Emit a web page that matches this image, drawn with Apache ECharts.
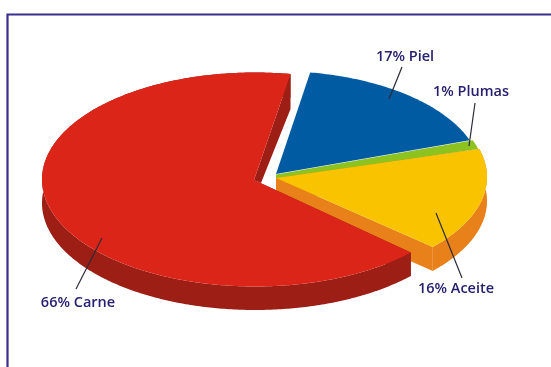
<!DOCTYPE html>
<html><head><meta charset="utf-8">
<style>html,body{margin:0;padding:0;background:#fff}#c{width:551px;height:367px}</style>
<script src="https://cdn.jsdelivr.net/npm/echarts@6/dist/echarts.min.js"></script>
</head><body><div id="c"></div>
<script>
const categories = ['Piel', 'Plumas', 'Aceite', 'Carne'];
const values = [17, 1, 16, 66];
const total = values.reduce((a, b) => a + b, 0);

const topColors = ['#005BA3', '#8CC320', '#F9C300', '#DC2519'];
const wallColors = [null, null, '#E8811A', '#9C1E15'];
const INK = '#27206F';
// ellipse of each slice, wedge tip(s), wall depth, angle bleed/trim, paint order
const geom = [
  {cx: 276, cy: 174, a: 205, b: 103, tips: [[276, 174]], d: 0, pre: 0, post: 0, order: 2},
  {cx: 276, cy: 175, a: 209, b: 103, tips: [[276, 179], [276, 174.5]], d: 0, pre: 0.5, post: 1, order: 1},
  {cx: 276, cy: 177, a: 211, b: 104.5, tips: [[276, 178]], d: 24, pre: 0, post: 0, order: 3},
  {cx: 255, cy: 179.5, a: 213, b: 107, tips: [[254, 180]], d: 23.5, pre: -1, post: 0, order: 4,
    cut: {drop: 35, tipShift: [7, 3]}}
];
// label anchor and leader line, both pixel annotations
const notes = [
  {x: 405, y: 57, l: [402, 67, 389, 99]},
  {x: 471, y: 92, l: [475, 103, 469, 146]},
  {x: 456, y: 289, l: [462, 278, 436, 213]},
  {x: 78, y: 303, l: [76, 289, 102, 238]}
];
const START = 80.4;
const starts = [];
values.reduce((acc, v, i) => { starts[i] = acc; return acc - v / total * 360; }, START);

function arc(g, from, to) {
  const pts = [], n = Math.max(8, Math.ceil(Math.abs(from - to) * 1.5));
  for (let k = 0; k <= n; k++) {
    const t = (from + (to - from) * k / n) * Math.PI / 180;
    pts.push([g.cx + g.a * Math.cos(t), g.cy - g.b * Math.sin(t)]);
  }
  return pts;
}
function poly(points, fill, z2) {
  return {type: 'polygon', z2, shape: {points}, style: {fill}};
}
function renderItem(params, api) {
  const i = params.dataIndex, g = geom[i], v = api.value(0);
  const from = starts[i] + g.pre, to = starts[i] - v / total * 360 - g.post;
  const a = arc(g, from, to), base = g.order * 10, kids = [];
  if (g.d) {
    const low = p => [p[0], p[1] + g.d];
    const apex = g.tips[0], wall = wallColors[i], first = a[0], last = a[a.length - 1];
    kids.push(poly(a.concat(a.map(low).reverse()), wall, base));
    kids.push(poly([apex, first, low(first), low(apex)], wall, base));
    if (g.cut) {
      kids.push(poly([apex, last, [last[0], last[1] + g.cut.drop],
        [apex[0] + g.cut.tipShift[0], apex[1] + g.cut.tipShift[1]]], wall, base));
    } else {
      kids.push(poly([apex, last, low(last), low(apex)], wall, base));
    }
  }
  kids.push(poly(g.tips.concat(a), topColors[i], base + 1));
  return {type: 'group', children: kids};
}
function renderNote(params, api) {
  const i = params.dataIndex, n = notes[i];
  return {type: 'group', children: [
    {type: 'line', shape: {x1: n.l[0], y1: n.l[1], x2: n.l[2], y2: n.l[3]},
      style: {stroke: '#2d2b38', lineWidth: 1.2}},
    {type: 'text', style: {x: n.x, y: n.y, text: api.value(0) + '% ' + categories[i],
      fill: INK, font: '600 14.5px "Open Sans"', textAlign: 'center', textVerticalAlign: 'middle'}}
  ]};
}
const chart = echarts.init(document.getElementById('c'), null, {renderer: 'canvas'});
chart.setOption({
  animation: false,
  backgroundColor: '#fff',
  graphic: [{type: 'rect', z: 0, shape: {x: 7.5, y: 14.5, width: 600, height: 400},
    style: {fill: '#fff', stroke: '#3B2E8F', lineWidth: 2.2}}],
  series: [
    {type: 'custom', coordinateSystem: 'none', renderItem, data: values.map(v => [v]), z: 2, silent: true},
    {type: 'custom', coordinateSystem: 'none', renderItem: renderNote, data: values.map(v => [v]), z: 3, silent: true}
  ]
});
</script></body></html>
